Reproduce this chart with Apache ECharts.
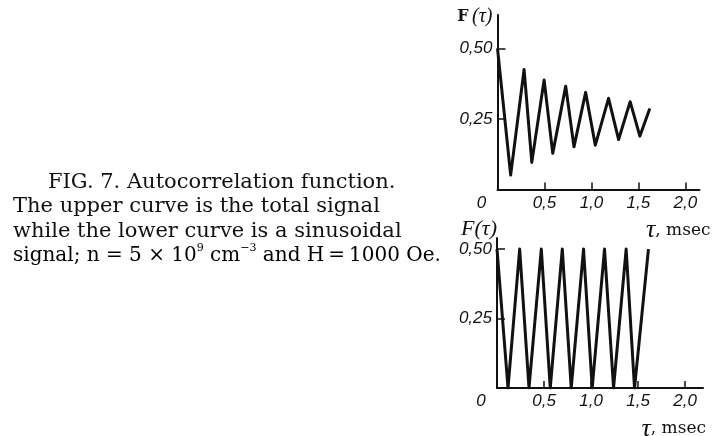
<!DOCTYPE html>
<html>
<head>
<meta charset="utf-8">
<title>FIG. 7</title>
<script src="https://cdn.jsdelivr.net/npm/echarts@6/dist/echarts.min.js"></script>
<style>
  * { margin: 0; padding: 0; }
  body { background: #fff; }
</style>
</head>
<body>
<div id="main" style="width:725px;height:436px;"></div>
<script>
// upper curve: total signal (peaks and troughs)
var topTau = [0.0, 0.14, 0.283, 0.365, 0.496, 0.588, 0.726, 0.814, 0.938, 1.041, 1.182, 1.289, 1.412, 1.515, 1.621];
var topF   = [0.50, 0.051, 0.425, 0.096, 0.388, 0.128, 0.366, 0.151, 0.344, 0.157, 0.323, 0.177, 0.311, 0.189, 0.287];
// lower curve: sinusoidal signal
var botTau = [0.0, 0.117, 0.241, 0.34, 0.471, 0.566, 0.694, 0.789, 0.92, 1.012, 1.143, 1.239, 1.373, 1.462, 1.61];
var botF   = [0.50, 0.0, 0.50, 0.0, 0.50, 0.0, 0.50, 0.0, 0.50, 0.0, 0.50, 0.0, 0.50, 0.0, 0.50];
// ticks
var xTicks = [0.5, 1.0, 1.5, 2.0];
var xLabels = [0, 0.5, 1.0, 1.5, 2.0];
var yTicks = [0.25, 0.5];

var tickFont = "'Liberation Sans', Arial, sans-serif";
var serif = "'DejaVu Serif', serif";
var lserif = "'Liberation Serif', serif";

function pairs(xs, ys) {
  return xs.map(function (x, i) { return [x, ys[i]]; });
}

function xAxisOpt(gridIndex, max, gap) {
  return {
    type: 'value', gridIndex: gridIndex, min: 0, max: max,
    axisLine: { lineStyle: { color: '#111', width: 2 } },
    axisTick: { inside: true, length: 7, customValues: xTicks, lineStyle: { color: '#111', width: 1.5 } },
    axisLabel: {
      customValues: xLabels, margin: 5, color: '#111',
      fontFamily: tickFont, fontStyle: 'italic', fontSize: 17,
      formatter: function (v) {
        if (v === 0) return '{z|0}';
        return v.toFixed(1).replace('.', ',');
      },
      rich: { z: { padding: [0, 32, 0, 0], fontFamily: tickFont, fontStyle: 'italic', fontSize: 17, color: '#111' } }
    },
    splitLine: { show: false },
    name: '{t|τ}{u|, msec}',
    nameLocation: 'end', nameGap: gap,
    nameTextStyle: {
      align: 'right', verticalAlign: 'top', padding: [28, 0, 0, 0],
      rich: {
        t: { fontFamily: lserif, fontStyle: 'italic', fontSize: 26, color: '#111' },
        u: { fontFamily: serif, fontSize: 17, color: '#111' }
      }
    }
  };
}

function yAxisOpt(gridIndex, max, name, rich, pad) {
  return {
    type: 'value', gridIndex: gridIndex, min: 0, max: max,
    axisLine: { lineStyle: { color: '#111', width: 2 } },
    axisTick: { inside: true, length: 8, customValues: yTicks, lineStyle: { color: '#111', width: 1.5 } },
    axisLabel: {
      customValues: yTicks, margin: 5, color: '#111',
      fontFamily: tickFont, fontStyle: 'italic', fontSize: 17,
      formatter: function (v) { return v.toFixed(2).replace('.', ','); }
    },
    splitLine: { show: false },
    name: name,
    nameLocation: 'end', nameGap: -12,
    nameTextStyle: { align: 'right', padding: [0, pad, 0, 0], rich: rich }
  };
}

var capStyle = { fontFamily: serif, fontSize: 21, fill: '#111' };

var chart = echarts.init(document.getElementById('main'));
chart.setOption({
  animation: false,
  backgroundColor: '#fff',
  grid: [
    { left: 497.5, top: 15, width: 202, height: 174.5, outerBoundsMode: 'none' },
    { left: 497, top: 238, width: 206, height: 150, outerBoundsMode: 'none' }
  ],
  xAxis: [xAxisOpt(0, 2.15, 11), xAxisOpt(1, 2.19, 3)],
  yAxis: [
    yAxisOpt(0, 0.618, '{f|F} {t|(τ)}', {
      f: { fontFamily: serif, fontWeight: 'bold', fontSize: 16, color: '#111' },
      t: { fontFamily: lserif, fontStyle: 'italic', fontSize: 20, color: '#111' }
    }, 5),
    yAxisOpt(1, 0.54, '{f|F(τ)}', {
      f: { fontFamily: lserif, fontStyle: 'italic', fontSize: 22, color: '#111' }
    }, 0)
  ],
  series: [
    {
      type: 'line', xAxisIndex: 0, yAxisIndex: 0, data: pairs(topTau, topF),
      showSymbol: false, lineStyle: { color: '#111', width: 3, join: 'round' }
    },
    {
      type: 'line', xAxisIndex: 1, yAxisIndex: 1, data: pairs(botTau, botF),
      showSymbol: false, lineStyle: { color: '#111', width: 3, join: 'round' }
    }
  ],
  graphic: [
    { type: 'text', left: 48, top: 172, style: Object.assign({ text: 'FIG. 7. Autocorrelation function.' }, capStyle) },
    { type: 'text', left: 13, top: 196, style: Object.assign({ text: 'The upper curve is the total signal' }, capStyle) },
    { type: 'text', left: 13, top: 221, style: Object.assign({ text: 'while the lower curve is a sinusoidal' }, capStyle) },
    {
      type: 'text', left: 13, top: 243,
      style: {
        text: '{a|signal; n = 5 × 10}{s|9}{a| cm}{s|−3}{a| and H\u2009=\u20091000 Oe.}',
        rich: {
          a: { fontFamily: serif, fontSize: 20, color: '#111', verticalAlign: 'bottom', height: 27 },
          s: { fontFamily: serif, fontSize: 11, color: '#111', verticalAlign: 'top', height: 12 }
        }
      }
    }
  ]
});
</script>
</body>
</html>
